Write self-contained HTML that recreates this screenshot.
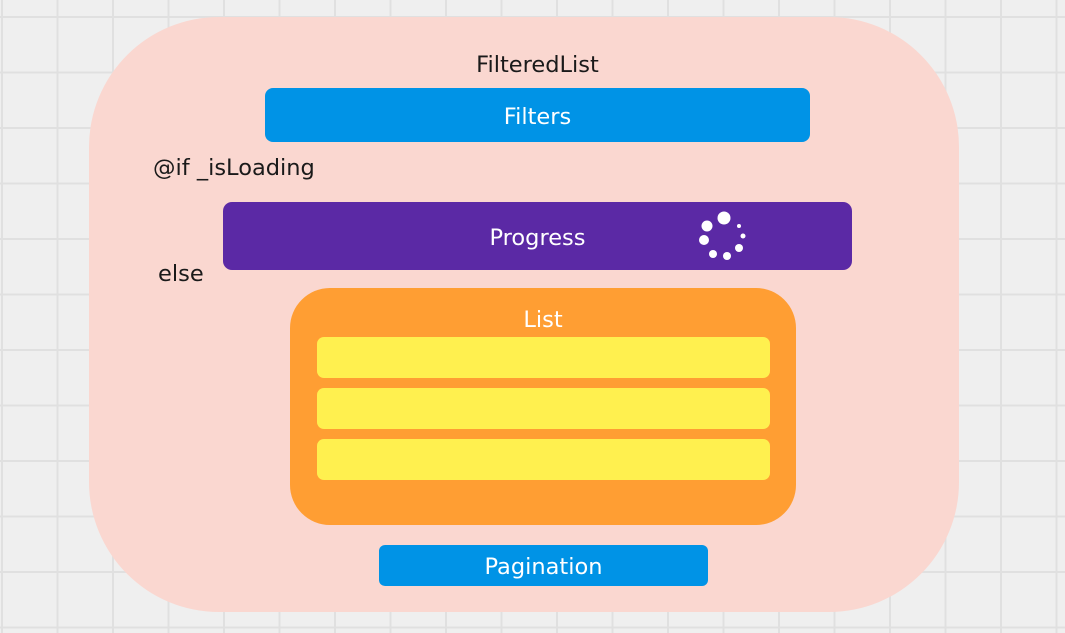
<!DOCTYPE html>
<html><head><style>
body{margin:0;width:1065px;height:633px;overflow:hidden;background-color:#efefef;
background-image:linear-gradient(#e0e0e0 2px,transparent 2px),linear-gradient(90deg,#e0e0e0 2px,transparent 2px);
background-size:55.5px 55.5px;background-position:1px 16px;font-family:"DejaVu Sans","Liberation Sans",sans-serif;position:relative}
div{position:absolute;box-sizing:border-box}
.t{color:#fff;font-size:22.5px;display:flex;align-items:center;justify-content:center;padding-top:3px}
.y{background:#fff04f;border-radius:7px;left:317px;width:453px;height:41px}
</style></head><body>
<div style="left:89px;top:17px;width:870px;height:595px;background:#fad7d0;border-radius:130px"></div>
<div style="left:0;width:1075px;top:52px;text-align:center;font-size:22.5px;color:#1a1a1a">FilteredList</div>
<div class="t" style="left:265px;top:88px;width:545px;height:54px;background:#0093e6;border-radius:8px">Filters</div>
<div style="left:153px;top:155px;font-size:22.5px;color:#1a1a1a">@if _isLoading</div>
<div class="t" style="left:223px;top:202px;width:629px;height:68px;background:#5b29a5;border-radius:9px">Progress</div>
<svg style="position:absolute;left:0;top:0" width="1065" height="633">
<g fill="#fff"><circle cx="724" cy="218" r="6.5"/><circle cx="707" cy="226" r="5.5"/><circle cx="704" cy="240" r="5"/><circle cx="713" cy="254" r="4"/><circle cx="727" cy="256" r="4"/><circle cx="739" cy="248" r="4"/><circle cx="743" cy="236" r="2.5"/><circle cx="739" cy="226" r="2"/></g></svg>
<div style="left:158px;top:261px;font-size:22.5px;color:#1a1a1a">else</div>
<div style="left:290px;top:288px;width:506px;height:237px;background:#ff9e33;border-radius:40px"></div>
<div class="t" style="left:290px;top:303px;width:506px;height:30px">List</div>
<div class="y" style="top:337px"></div>
<div class="y" style="top:388px"></div>
<div class="y" style="top:439px"></div>
<div class="t" style="left:379px;top:545px;width:329px;height:41px;background:#0093e6;border-radius:6px">Pagination</div>
</body></html>
